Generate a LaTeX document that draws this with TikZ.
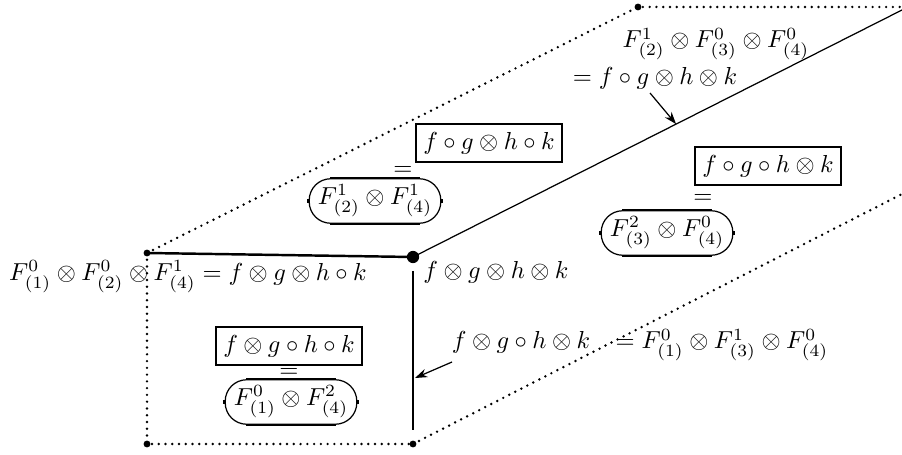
\documentclass[tikz,border=0pt]{standalone}
\usetikzlibrary{arrows.meta,calc}
\begin{document}
\begin{tikzpicture}[x=0.407pt,y=-0.407pt,
  thickline/.style={line width=1pt},
  thinline/.style={line width=0.5pt},
  dotline/.style={line width=1.1pt,dash pattern=on 0pt off 2.75pt,line cap=round},
  sqbox/.style={draw,line width=0.9pt,inner xsep=3pt,inner ysep=3.2pt},
  rndbox/.style={draw,line width=0.5pt,rounded corners=8.75pt,minimum height=17.5pt,inner xsep=3.5pt,inner ysep=2.5pt},
  lbl/.style={inner sep=0pt},
  arr/.style={thinline,-{Stealth[length=5pt,width=3.5pt]}},
  dotsmall/.style={circle,fill,inner sep=0pt,minimum size=2.8pt},
  dotbig/.style={circle,fill,inner sep=0pt,minimum size=5pt}]
\useasboundingbox (0,0) rectangle (902,455);
% corners
\coordinate (A) at (147,253);
\coordinate (B) at (413,257);
\coordinate (C) at (147,444);
\coordinate (D) at (413,444);
\coordinate (E) at (638,7);
\coordinate (Ftop) at (902,7);
\coordinate (G) at (902,10);
\coordinate (H) at (902,194);
\coordinate (Bs) at (413,271);
\coordinate (Ds) at (413,430);
% edges
\draw[dotline] (A) -- (E) -- (Ftop);
\draw[dotline] (A) -- (C) -- (D);
\draw[dotline] (D) -- (H);
\draw[thickline] (A) -- (B);
\draw[thickline] (Bs) -- (Ds);
\draw[thinline] (B) -- (G);
\node[dotsmall] (dA) at (A) {};
\node[dotsmall] (dC) at (C) {};
\node[dotsmall] (dD) at (D) {};
\node[dotsmall] (dE) at (E) {};
\node[dotbig] (dB) at (B) {};
% labels
\node[lbl,anchor=base] (t1) at (716,48) {$F^1_{(2)}\otimes F^0_{(3)}\otimes F^0_{(4)}$};
\node[lbl,anchor=base] (t2) at (655,85) {$= f\circ g\otimes h\otimes k$};
\node[sqbox] (b1) at (489,143) {$f\circ g\otimes h\circ k$};
\node[lbl] (e1) at (403,171) {$=$};
\node[rndbox] (r1) at (375,201) {$F^1_{(2)}\otimes F^1_{(4)}$};
\node[sqbox] (b2) at (768,166) {$f\circ g\circ h\otimes k$};
\node[lbl] (e2) at (703,199) {$=$};
\node[rndbox] (r2) at (667,233) {$F^2_{(3)}\otimes F^0_{(4)}$};
\node[lbl] (t3) at (188,277) {$F^0_{(1)}\otimes F^0_{(2)}\otimes F^1_{(4)} = f\otimes g\otimes h\circ k$};
\node[lbl] (t4) at (496,272) {$f\otimes g\otimes h\otimes k$};
\node[sqbox] (b3) at (289,346) {$f\otimes g\circ h\circ k$};
\node[lbl] (e3) at (289,373) {$=$};
\node[rndbox] (r3) at (291,402) {$F^0_{(1)}\otimes F^2_{(4)}$};
\node[lbl,anchor=base] (t5) at (521,349) {$f\otimes g\circ h\otimes k$};
\node[lbl,anchor=base] (t6) at (722,349) {$= F^0_{(1)}\otimes F^1_{(3)}\otimes F^0_{(4)}$};
% thick straight parts of rounded boxes
\foreach \n in {r1,r2,r3}{
  \draw[thickline] ([xshift=8.75pt]\n.north west) -- ([xshift=-8.75pt]\n.north east);
  \draw[thickline] ([xshift=8.75pt]\n.south west) -- ([xshift=-8.75pt]\n.south east);
  \draw[thickline] ([yshift=-0.8pt]\n.west) -- ([yshift=0.8pt]\n.west);
  \draw[thickline] ([yshift=-0.8pt]\n.east) -- ([yshift=0.8pt]\n.east);
}
% arrows
\coordinate (a1s) at (650,93);
\coordinate (a1e) at ($(B)!0.538!(G)$);
\coordinate (a2s) at (452,362);
\coordinate (a2e) at (415,378);
\draw[arr] (a1s) -- (a1e);
\draw[arr] (a2s) -- (a2e);
\end{tikzpicture}
\end{document}
